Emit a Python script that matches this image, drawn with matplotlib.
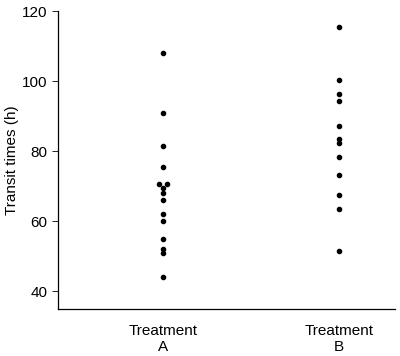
# dot plot of transit times for two treatments

import matplotlib.pyplot as plt

plt.rcParams['font.family'] = ['Liberation Sans', 'DejaVu Sans']

groups = ['Treatment\nA', 'Treatment\nB']
# transit times (h)
treat_a = [108, 91, 81.5, 75.5, 70.8, 70.8, 69.5, 68, 66, 62, 60, 55, 52, 51, 44]
treat_b = [115.5, 100.3, 96.3, 94.3, 87.2, 83.5, 82.4, 78.3, 73.3, 67.4, 63.4, 51.5]
# small horizontal offsets for the two tied values in A
offset_a = [0, 0, 0, 0, -0.025, 0.025, 0, 0, 0, 0, 0, 0, 0, 0, 0]

fig = plt.figure(figsize=(4, 3.56), dpi=100)
ax = fig.add_axes([0.145, 0.132, 0.8425, 0.837])

ax.plot([1 + o for o in offset_a], treat_a, 'o', color='black', markersize=3)
ax.plot([2] * len(treat_b), treat_b, 'o', color='black', markersize=3)

ax.set_xlim(0.403, 2.318)
ax.set_ylim(35, 120)
ax.set_yticks([40, 60, 80, 100, 120])
ax.set_xticks([1, 2])
ax.set_xticklabels(groups, fontsize=11, linespacing=1.15)
ax.tick_params(axis='x', length=0, pad=11)
ax.tick_params(axis='y', labelsize=11, length=4, width=0.6, direction='out')
ax.set_ylabel('Transit times (h)', fontsize=11, labelpad=2)

ax.spines['top'].set_visible(False)
ax.spines['right'].set_visible(False)
ax.spines['left'].set_linewidth(0.9)
ax.spines['bottom'].set_linewidth(0.9)

fig.savefig('out.png', dpi=100)
